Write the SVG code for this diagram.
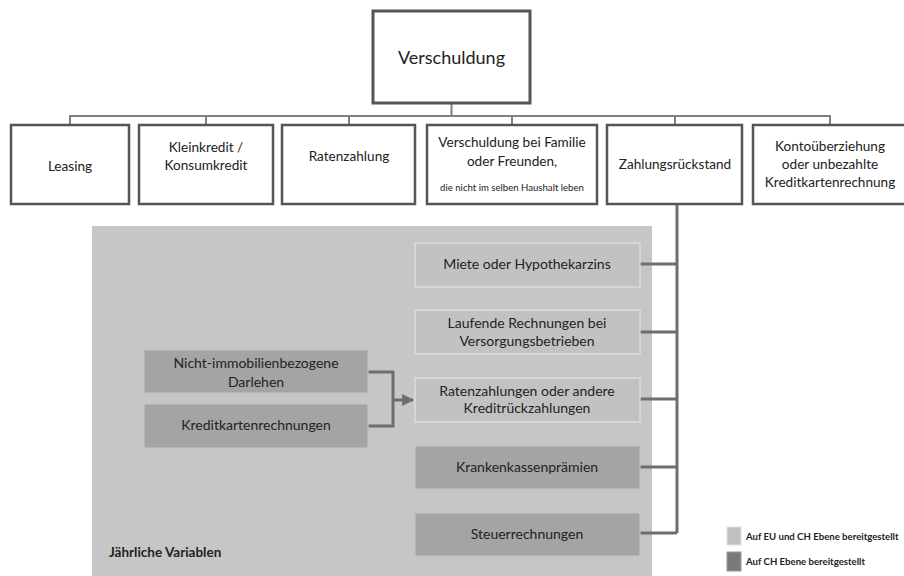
<svg xmlns="http://www.w3.org/2000/svg" width="904" height="576" viewBox="0 0 904 576">
<defs>
<style>
text{font-family:Lato,"Open Sans","Liberation Sans",sans-serif;fill:#222;text-anchor:middle}
.top{fill:#fff;stroke:#555;stroke-width:3}
.row{fill:#fff;stroke:#555;stroke-width:2.5}
.light{fill:#c2c2c2;stroke:#e2e2e2;stroke-width:1.2}
.dark{fill:#a4a4a4;stroke:#c4c4c4;stroke-width:1.2}
.bus{fill:none;stroke:#808080;stroke-width:2}
.con{fill:none;stroke:#6e6e6e;stroke-width:3}
.t13{font-size:13.6px}
.t12{font-size:14px}
.lg{font-size:9.6px;font-weight:bold;text-anchor:start}
</style>
<marker id="arr" viewBox="0 0 10 10" refX="9" refY="5" markerWidth="4" markerHeight="4" orient="auto" markerUnits="strokeWidth">
<path d="M0,0 L10,5 L0,10 Z" fill="#6e6e6e"/>
</marker>
</defs>
<rect width="904" height="576" fill="#fff"/>
<rect id="panel" x="92" y="226" width="560" height="352" fill="#c6c6c6"/>
<g id="connectors">
<path class="bus" d="M451.5,103 V116 M70,125 V116 H830 V125 M206,116 V125 M349,116 V125 M512,116 V125 M675,116 V125"/>
<path class="con" d="M677,204 V533 M640,264 H677 M640,332 H677 M640,399 H677 M640,467 H677 M640,533 H677"/>
<path class="con" d="M367,372 H393 V426 H367 M393,400 H413" marker-end="url(#arr)"/>
</g>
<g id="n-verschuldung"><rect class="top" x="373" y="11" width="157" height="92"/><text x="451.5" y="64" font-size="18">Verschuldung</text></g>
<g id="n-leasing"><rect class="row" x="11" y="125" width="118" height="79"/><text class="t13" x="70" y="171">Leasing</text></g>
<g id="n-kleinkredit"><rect class="row" x="139" y="125" width="134" height="79"/><text class="t13" x="206" y="152">Kleinkredit /</text><text class="t13" x="206" y="170">Konsumkredit</text></g>
<g id="n-ratenzahlung"><rect class="row" x="282" y="125" width="133" height="79"/><text class="t13" x="349" y="161">Ratenzahlung</text></g>
<g id="n-familie"><rect class="row" x="427" y="125" width="170" height="79"/><text class="t13" x="512" y="147">Verschuldung bei Familie</text><text class="t13" x="512" y="166">oder Freunden,</text><text x="512" y="191" font-size="9.6">die nicht im selben Haushalt leben</text></g>
<g id="n-zahlungsrueckstand"><rect class="row" x="607" y="125" width="135" height="79"/><text class="t13" x="675" y="169">Zahlungsrückstand</text></g>
<g id="n-konto"><rect class="row" x="753" y="125" width="154" height="79"/><text class="t13" x="830" y="151">Kontoüberziehung</text><text class="t13" x="830" y="169">oder unbezahlte</text><text class="t13" x="830" y="187">Kreditkartenrechnung</text></g>
<g id="n-miete"><rect class="light" x="415" y="243" width="225" height="44"/><text class="t12" x="527" y="269">Miete oder Hypothekarzins</text></g>
<g id="n-laufende"><rect class="light" x="415" y="310" width="225" height="44"/><text class="t12" x="527" y="328">Laufende Rechnungen bei</text><text class="t12" x="527" y="346">Versorgungsbetrieben</text></g>
<g id="n-raten"><rect class="light" x="415" y="378" width="225" height="44"/><text class="t12" x="527" y="396">Ratenzahlungen oder andere</text><text class="t12" x="527" y="413">Kreditrückzahlungen</text></g>
<g id="n-kranken"><rect class="dark" x="415" y="446" width="225" height="43"/><text class="t12" x="527" y="472">Krankenkassenprämien</text></g>
<g id="n-steuer"><rect class="dark" x="415" y="513" width="225" height="43"/><text class="t12" x="527" y="539">Steuerrechnungen</text></g>
<g id="n-nicht"><rect class="dark" x="144" y="350" width="224" height="43"/><text class="t12" x="256" y="368">Nicht-immobilienbezogene</text><text class="t12" x="256" y="387">Darlehen</text></g>
<g id="n-kreditkarten"><rect class="dark" x="144" y="404" width="224" height="44"/><text class="t12" x="256" y="430">Kreditkartenrechnungen</text></g>
<text x="109" y="557" font-size="13.5" font-weight="bold" style="text-anchor:start">Jährliche Variablen</text>
<g id="legend">
<rect x="727" y="527" width="14" height="18" fill="#c0c0c0" stroke="#e2e2e2"/>
<rect x="727" y="552" width="14" height="19" fill="#7a7a7a" stroke="#9a9a9a"/>
<text class="lg" x="746" y="539.5">Auf EU und CH Ebene bereitgestellt</text>
<text class="lg" x="746" y="565">Auf CH Ebene bereitgestellt</text>
</g>
</svg>
